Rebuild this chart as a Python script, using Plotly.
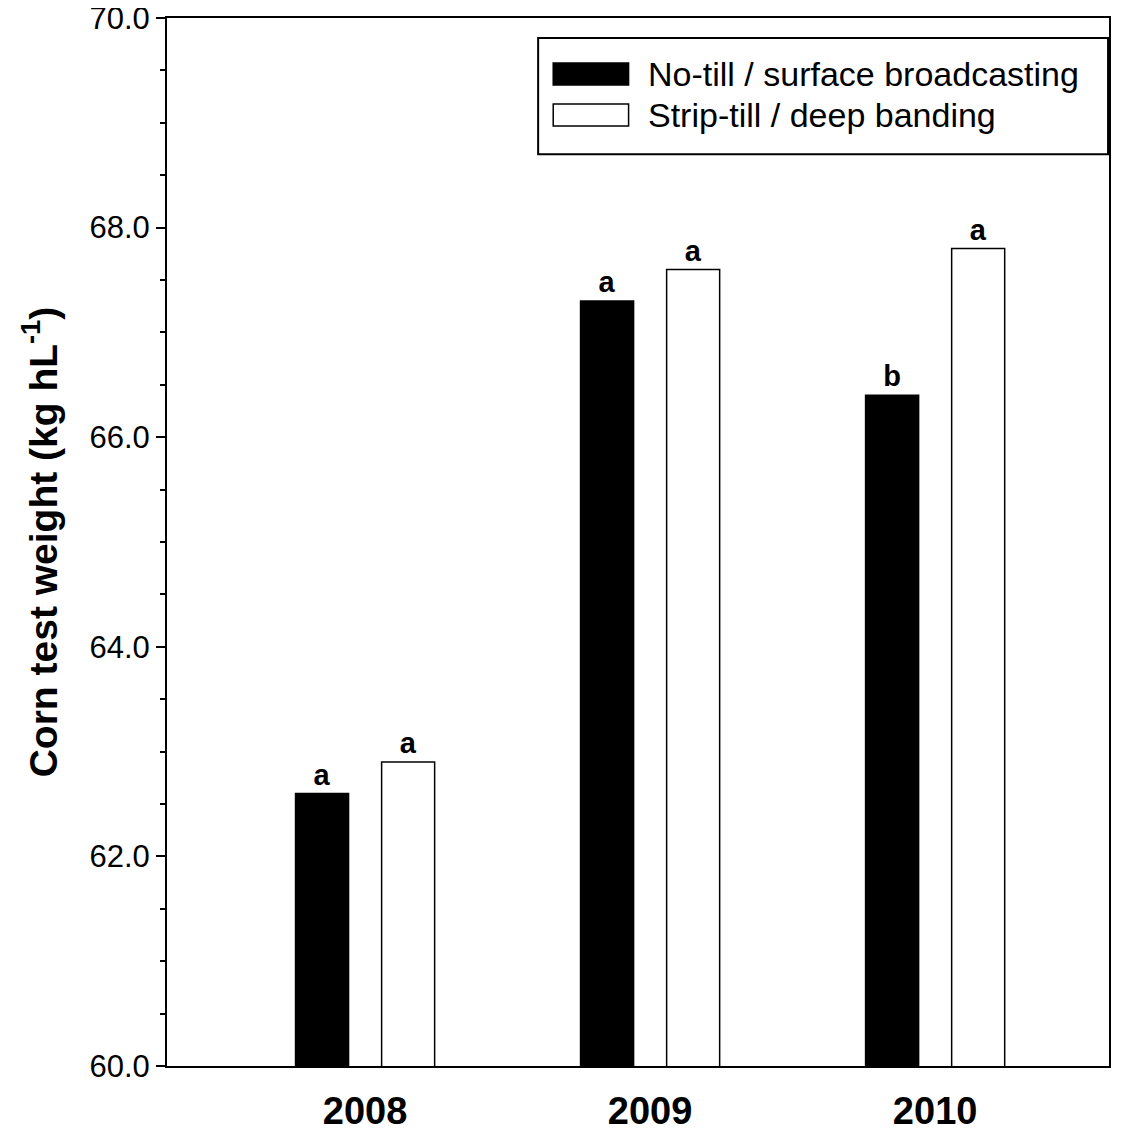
import plotly.graph_objects as go

years = ["2008", "2009", "2010"]
no_till = [62.6, 67.3, 66.4]
strip_till = [62.9, 67.6, 67.8]
no_till_letters = ["a", "a", "b"]
strip_till_letters = ["a", "a", "a"]
series_names = ["No-till / surface broadcasting", "Strip-till / deep banding"]
y_ticks = [60, 62, 64, 66, 68, 70]

FONT = "Liberation Sans, Arial, sans-serif"

fig = go.Figure()
fig.add_trace(go.Bar(
    x=years, y=no_till, name=series_names[0],
    marker=dict(color="black", line=dict(color="black", width=1.5)),
    text=no_till_letters, textposition="outside",
    textfont=dict(family=FONT, size=29, color="black", weight="bold"),
    cliponaxis=False, showlegend=False,
))
fig.add_trace(go.Bar(
    x=years, y=strip_till, name=series_names[1],
    marker=dict(color="white", line=dict(color="black", width=1.5)),
    text=strip_till_letters, textposition="outside",
    textfont=dict(family=FONT, size=29, color="black", weight="bold"),
    cliponaxis=False, showlegend=False,
))

fig.update_layout(
    width=1128, height=1132,
    margin=dict(l=159, r=27, t=10, b=74, autoexpand=False),
    paper_bgcolor="white", plot_bgcolor="white",
    barmode="group", bargap=0.396, bargroupgap=0.384,
    font=dict(family=FONT, color="black"),
    showlegend=False,
)
fig.update_xaxes(
    type="category", range=[-0.695, 2.61], automargin=False,
    showline=True, linecolor="black", linewidth=2, mirror=True,
    ticks="", showgrid=False, ticklabelstandoff=10,
    tickfont=dict(family=FONT, size=38, color="black", weight="bold"),
)
fig.update_yaxes(
    range=[60, 70], tickvals=y_ticks, ticktext=[f"{v:.1f}" for v in y_ticks],
    automargin=False, ticklabeloverflow="allow",
    showline=True, linecolor="black", linewidth=2, mirror=True,
    ticks="outside", ticklen=9, tickwidth=2, tickcolor="black",
    minor=dict(dtick=0.5, ticks="outside", ticklen=5, tickwidth=2, tickcolor="black", showgrid=False),
    showgrid=False, zeroline=False,
    tickfont=dict(family=FONT, size=31, color="black"),
    title=dict(text="Corn test weight (kg hL<sup>-1</sup>)",
               font=dict(family=FONT, size=39, color="black", weight="bold"),
               standoff=20),
)

# Legend drawn manually
fig.add_shape(type="rect", xref="paper", yref="paper",
              x0=0.394, x1=0.999, y0=0.870, y1=0.981,
              line=dict(color="black", width=2), fillcolor="white")
fig.add_shape(type="rect", xref="paper", yref="paper",
              x0=0.410, x1=0.490, y0=0.936, y1=0.957,
              line=dict(color="black", width=1.5), fillcolor="black")
fig.add_shape(type="rect", xref="paper", yref="paper",
              x0=0.410, x1=0.490, y0=0.897, y1=0.918,
              line=dict(color="black", width=1.5), fillcolor="white")
fig.add_annotation(xref="paper", yref="paper", x=0.508, y=0.947,
                   text=series_names[0], showarrow=False, xanchor="left", yanchor="middle",
                   font=dict(family=FONT, size=34, color="black"))
fig.add_annotation(xref="paper", yref="paper", x=0.508, y=0.907,
                   text=series_names[1], showarrow=False, xanchor="left", yanchor="middle",
                   font=dict(family=FONT, size=34, color="black"))

fig.write_html("out.html")
